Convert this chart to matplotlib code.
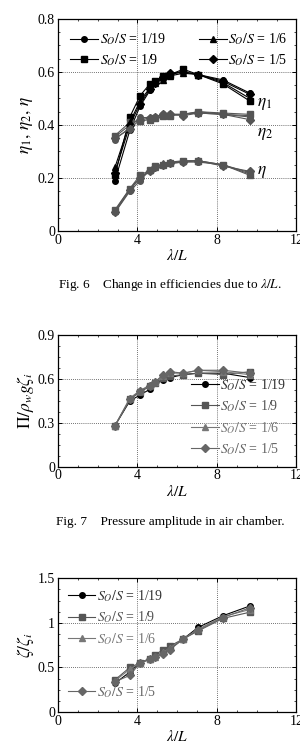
import matplotlib
matplotlib.use("Agg")
import matplotlib.pyplot as plt
from matplotlib.ticker import MultipleLocator

plt.rcParams['font.family'] = ['Liberation Serif', 'DejaVu Serif']
plt.rcParams['mathtext.fontset'] = 'stix'

x = [2.87, 3.62, 4.13, 4.63, 4.88, 5.30, 5.64, 6.31, 7.06, 8.30, 9.66]
labels = [r"$S_O/S$ = 1/19", r"$S_O/S$ = 1/9", r"$S_O/S$ = 1/6", r"$S_O/S$ = 1/5"]
markers = ['o', 's', '^', 'D']
xticks = [0, 4, 8, 12]
xticklabels = ['0', '4', '8', '12']

# Fig 6
eta1 = [
    [0.19, 0.38, 0.47, 0.53, 0.56, 0.575, 0.59, 0.60, 0.59, 0.57, 0.52],
    [0.21, 0.43, 0.51, 0.555, 0.565, 0.585, 0.59, 0.61, 0.59, 0.555, 0.49],
    [0.24, 0.41, 0.49, 0.54, 0.56, 0.57, 0.585, 0.595, 0.59, 0.56, 0.50],
    [0.22, 0.40, 0.48, 0.535, 0.56, 0.58, 0.595, 0.60, 0.59, 0.565, 0.515],
]
eta2 = [
    [0.345, 0.39, 0.43, 0.425, 0.43, 0.44, 0.44, 0.44, 0.45, 0.44, 0.43],
    [0.36, 0.41, 0.415, 0.42, 0.425, 0.435, 0.435, 0.44, 0.45, 0.445, 0.44],
    [0.355, 0.40, 0.425, 0.43, 0.43, 0.44, 0.44, 0.44, 0.445, 0.44, 0.435],
    [0.35, 0.385, 0.42, 0.425, 0.43, 0.44, 0.44, 0.435, 0.445, 0.44, 0.42],
]
eta = [
    [0.07, 0.15, 0.19, 0.23, 0.24, 0.25, 0.255, 0.26, 0.26, 0.25, 0.215],
    [0.08, 0.16, 0.21, 0.23, 0.245, 0.25, 0.255, 0.265, 0.265, 0.25, 0.21],
    [0.075, 0.16, 0.20, 0.23, 0.24, 0.255, 0.26, 0.265, 0.265, 0.25, 0.22],
    [0.07, 0.155, 0.20, 0.225, 0.24, 0.25, 0.255, 0.26, 0.265, 0.245, 0.225],
]
yticks6 = [0, 0.2, 0.4, 0.6, 0.8]
yticklabels6 = ['0', '0.2', '0.4', '0.6', '0.8']
# Fig 7
pres = [
    [0.28, 0.45, 0.49, 0.53, 0.57, 0.59, 0.61, 0.63, 0.64, 0.64, 0.61],
    [0.28, 0.46, 0.51, 0.55, 0.57, 0.61, 0.62, 0.63, 0.64, 0.63, 0.65],
    [0.28, 0.47, 0.52, 0.56, 0.58, 0.62, 0.64, 0.64, 0.66, 0.65, 0.63],
    [0.28, 0.46, 0.52, 0.55, 0.58, 0.63, 0.65, 0.64, 0.66, 0.66, 0.64],
]
yticks7 = [0, 0.3, 0.6, 0.9]
yticklabels7 = ['0', '0.3', '0.6', '0.9']
# Fig 8
amp = [
    [0.32, 0.45, 0.55, 0.60, 0.63, 0.66, 0.71, 0.82, 0.95, 1.08, 1.19],
    [0.36, 0.50, 0.55, 0.59, 0.64, 0.70, 0.74, 0.82, 0.91, 1.05, 1.12],
    [0.35, 0.48, 0.55, 0.60, 0.62, 0.67, 0.72, 0.82, 0.93, 1.07, 1.15],
    [0.34, 0.41, 0.55, 0.59, 0.62, 0.65, 0.70, 0.82, 0.92, 1.06, 1.17],
]
yticks8 = [0, 0.5, 1.0, 1.5]
yticklabels8 = ['0', '0.5', '1', '1.5']

fig = plt.figure(figsize=(3.0, 7.55), dpi=100)
FS = 9.5
LFS = 10

def style(ax, yt, ytl):
    ax.set_xlim(0, 12)
    ax.set_ylim(yt[0], yt[-1])
    ax.set_xticks(xticks)
    ax.set_xticklabels(xticklabels)
    ax.set_yticks(yt)
    ax.set_yticklabels(ytl)
    ax.xaxis.set_minor_locator(MultipleLocator(1))
    ax.yaxis.set_minor_locator(MultipleLocator((yt[1] - yt[0]) / 4))
    ax.grid(True, which='major', linestyle=(0, (1, 1.5)), color='#444444', linewidth=0.6)
    ax.tick_params(which='both', direction='in', top=True, right=True, labelsize=FS + 0.5, pad=2)
    ax.tick_params(which='major', length=3, width=0.7)
    ax.tick_params(which='minor', length=1.5, width=0.5)
    for s in ax.spines.values():
        s.set_linewidth(0.9)
    ax.set_xlabel(r"$\lambda/L$", fontsize=FS + 1.5, labelpad=1)

# ---- Fig 6
ax1 = fig.add_axes([0.193, 0.694, 0.795, 0.281])
grey = '#555555'
for i in range(4):
    ax1.plot(x, eta1[i], marker=markers[i], color='black', ms=4, lw=0.8, label=labels[i])
    ax1.plot(x, eta2[i], marker=markers[i], color=grey, ms=4, lw=0.8)
    ax1.plot(x, eta[i], marker=markers[i], color=grey, ms=4, lw=0.8)
style(ax1, yticks6, yticklabels6)
ax1.set_ylabel(r"$\eta_1,\,\eta_2,\,\eta$", fontsize=FS + 3, labelpad=2)
ax1.legend(ncol=2, loc='upper left', bbox_to_anchor=(0.0, 1.0), frameon=False,
           fontsize=LFS, handlelength=2.0, columnspacing=2.4, handletextpad=0.1,
           labelspacing=0.35, borderaxespad=0.5)
ax1.text(10.0, 0.47, r"$\eta_1$", fontsize=FS + 3)
ax1.text(10.0, 0.36, r"$\eta_2$", fontsize=FS + 3)
ax1.text(10.0, 0.215, r"$\eta$", fontsize=FS + 3)
fig.text(0.567, 0.623, r"Fig. 6    Change in efficiencies due to $\lambda/L$.",
         ha='center', va='center', fontsize=FS)

# ---- Fig 7
colors7 = ['black', '#555555', '#777777', '#666666']
ax2 = fig.add_axes([0.193, 0.382, 0.795, 0.174])
for i in range(4):
    ax2.plot(x, pres[i], marker=markers[i], color=colors7[i], ms=4, lw=0.8, label=labels[i])
style(ax2, yticks7, yticklabels7)
ax2.set_ylabel(r"$\Pi/\rho_w g\zeta_i$", fontsize=FS + 3, labelpad=1)
leg2 = ax2.legend(loc='lower right', bbox_to_anchor=(1.0, 0.0), frameon=False,
                  fontsize=LFS, handlelength=2.0, handletextpad=0.1,
                  labelspacing=0.4, borderaxespad=0.3)
for t, c in zip(leg2.get_texts(), colors7):
    t.set_color(c if c != 'black' else '#333333')
fig.text(0.567, 0.309, "Fig. 7    Pressure amplitude in air chamber.",
         ha='center', va='center', fontsize=FS)

# ---- Fig 8
ax3 = fig.add_axes([0.193, 0.057, 0.795, 0.177])
lines = []
for i in range(4):
    ln, = ax3.plot(x, amp[i], marker=markers[i], color=colors7[i], ms=4, lw=0.8, label=labels[i])
    lines.append(ln)
style(ax3, yticks8, yticklabels8)
ax3.set_ylabel(r"$\zeta/\zeta_i$", fontsize=FS + 3, labelpad=1)
legA = ax3.legend(lines[:3], labels[:3], loc='upper left', frameon=False,
                  fontsize=LFS, handlelength=2.0, handletextpad=0.1,
                  labelspacing=0.4, borderaxespad=0.3)
for t, c in zip(legA.get_texts(), colors7[:3]):
    t.set_color(c if c != 'black' else '#333333')
ax3.add_artist(legA)
legB = ax3.legend(lines[3:], labels[3:], loc='lower left', bbox_to_anchor=(0.0, 0.02),
                  frameon=False, fontsize=LFS, handlelength=2.0, handletextpad=0.1,
                  borderaxespad=0.3)
for t in legB.get_texts():
    t.set_color('#666666')

fig.savefig("out.png", dpi=100)
